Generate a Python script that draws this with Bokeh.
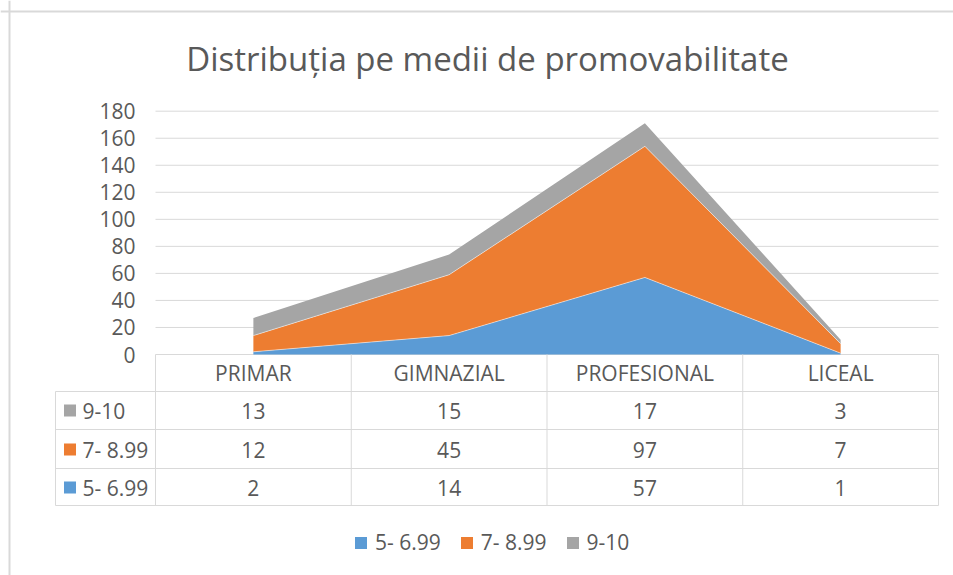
import numpy as np
from bokeh.plotting import figure
from bokeh.models import ColumnDataSource, Range1d, Legend, LegendItem, Span
from bokeh.core.properties import value
from bokeh.embed import file_html
from bokeh.resources import INLINE

# ---------------- data ----------------
categories = ["PRIMAR", "GIMNAZIAL", "PROFESIONAL", "LICEAL"]
series_names = ["5- 6.99", "7- 8.99", "9-10"]
s_5_699 = [2, 14, 57, 1]
s_7_899 = [12, 45, 97, 7]
s_9_10 = [13, 15, 17, 3]
y_ticks = [0, 20, 40, 60, 80, 100, 120, 140, 160, 180]
title_text = "Distribuția pe medii de promovabilitate"

colors = ["#5B9BD5", "#ED7D31", "#A5A5A5"]
TXT = "#595959"
GRID = "#d9d9d9"
FONT = value("Open Sans")
FS = "21px"

# ---------------- layout helpers (pixels -> data) ----------------
W, H = 953, 575
COL_W = 195.75          # width of one category column in px
X0PX = 155              # px of left edge of plot area (category index -0.5)
Y0PX = 354              # px of value 0
PX_PER_UNIT = 1.3517    # px per value unit


def dx(px):
    return (px - X0PX) / COL_W - 0.5


def dy(py):
    return (Y0PX - py) / PX_PER_UNIT


p = figure(width=W, height=H,
           x_range=Range1d(dx(0), dx(W)), y_range=Range1d(dy(H), dy(0)),
           x_axis_location=None, y_axis_location=None,
           toolbar_location=None, output_backend="svg",
           min_border=0, outline_line_color=None)
p.xgrid.visible = False
p.ygrid.visible = False

n = len(categories)
xs = list(range(n))
plot_left, plot_right = -0.5, n - 0.5

# chart border (left & top)
p.add_layout(Span(location=dx(9), dimension="height", line_color=GRID, line_width=2))
p.add_layout(Span(location=dy(11), dimension="width", line_color=GRID, line_width=2))

# horizontal gridlines
p.segment(x0=[plot_left] * len(y_ticks), x1=[plot_right] * len(y_ticks),
          y0=y_ticks, y1=y_ticks, line_color=GRID, line_width=1)

# y tick labels
p.text(x=[dx(135)] * len(y_ticks), y=y_ticks, text=[str(t) for t in y_ticks],
       text_align="right", text_baseline="middle", text_font=FONT,
       text_font_size=FS, text_color=TXT)

# stacked areas
src = ColumnDataSource(dict(x=xs, a=s_5_699, b=s_7_899, c=s_9_10))
rs = p.varea_stack(stackers=["a", "b", "c"], x="x", color=colors, source=src)
cum1 = np.array(s_5_699)
cum2 = cum1 + np.array(s_7_899)
for top in (cum1, cum2):
    p.line(xs, top, line_color="white", line_width=1, line_alpha=0.5)

# ---------------- data table ----------------
row_bounds_px = [391, 429, 468, 505]
row_bounds = [dy(v) for v in row_bounds_px]
tbl_left = dx(55)
# horizontal lines
p.segment(x0=[tbl_left] * 4, x1=[plot_right] * 4, y0=row_bounds, y1=row_bounds,
          line_color=GRID, line_width=1)
# vertical lines
p.segment(x0=[tbl_left], x1=[tbl_left], y0=[row_bounds[0]], y1=[row_bounds[-1]],
          line_color=GRID, line_width=1)
vx = [i - 0.5 for i in range(n + 1)]
p.segment(x0=vx, x1=vx, y0=[0] * len(vx), y1=[row_bounds[-1]] * len(vx),
          line_color=GRID, line_width=1)

# header
p.text(x=xs, y=[dy(372)] * n, text=categories, text_align="center",
       text_baseline="middle", text_font=FONT, text_font_size=FS, text_color=TXT)

rows = [(series_names[2], s_9_10, colors[2]),
        (series_names[1], s_7_899, colors[1]),
        (series_names[0], s_5_699, colors[0])]
row_centers = [dy(410), dy(449), dy(487)]
for (name, vals, col), yc in zip(rows, row_centers):
    p.scatter(x=[dx(69.5)], y=[yc], marker="square", size=12, fill_color=col,
              line_color=None)
    p.text(x=[dx(82)], y=[yc], text=[name], text_align="left",
           text_baseline="middle", text_font=FONT, text_font_size=FS, text_color=TXT)
    p.text(x=xs, y=[yc] * n, text=[str(v) for v in vals], text_align="center",
           text_baseline="middle", text_font=FONT, text_font_size=FS, text_color=TXT)

# title
p.text(x=[dx(487)], y=[dy(58)], text=[title_text], text_align="center",
       text_baseline="middle", text_font=FONT, text_font_size="33px", text_color=TXT)

# legend
legend = Legend(items=[LegendItem(label=series_names[i], renderers=[rs[i]]) for i in range(3)],
                orientation="horizontal", location=(353, 19),
                glyph_width=15, glyph_height=15, label_standoff=7, spacing=18,
                label_text_font="Open Sans", label_text_font_size=FS,
                label_text_color=TXT, border_line_color=None,
                background_fill_alpha=0, padding=0, margin=0)
p.add_layout(legend)

open("out.html", "w").write(file_html(p, INLINE))
